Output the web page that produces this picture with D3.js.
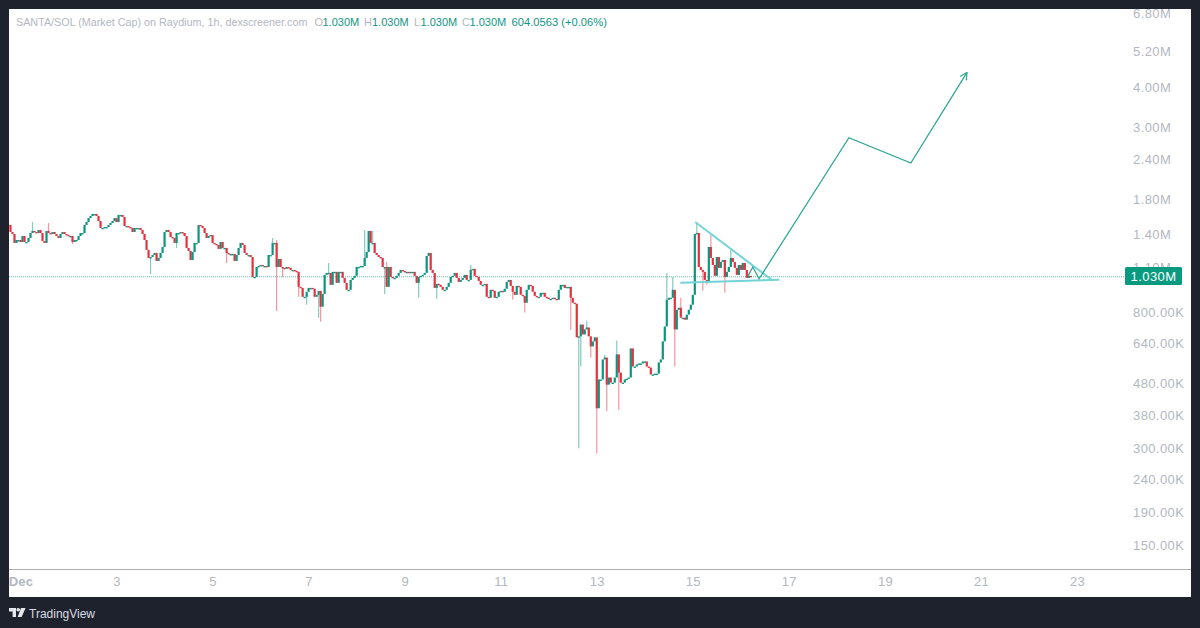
<!DOCTYPE html>
<html><head><meta charset="utf-8">
<script src="https://cdn.jsdelivr.net/npm/d3@7"></script>
<style>
html,body{margin:0;padding:0;background:#1e222d;width:1200px;height:628px;overflow:hidden}
svg{display:block}
text{font-family:"Liberation Sans",Arial,sans-serif}
</style></head><body>
<svg id="c" width="1200" height="628"></svg>
<script>
// hourly closes in thousands, first candle Nov 30 18:00
const closes = [
1494,1420,1400,1313,1341,1341,1322,1380,1322,1322,
1361,1410,1431,1420,1410,1441,1410,1332,1313,1431,
1410,1400,1420,1400,1380,1361,1400,1420,1400,1390,
1380,1380,1322,1341,1341,1380,1410,1410,1494,1526,
1570,1593,1616,1616,1593,1537,1462,1462,1472,1472,
1494,1515,1537,1570,1526,1605,1605,1582,1483,1483,
1472,1462,1420,1462,1462,1462,1441,1400,1341,1249,
1179,1187,1204,1222,1154,1179,1222,1276,1420,1441,
1420,1370,1361,1313,1410,1410,1420,1410,1380,1267,
1240,1162,1231,1313,1313,1494,1483,1462,1410,1361,
1380,1390,1313,1303,1294,1258,1322,1267,1267,1222,
1213,1213,1213,1154,1204,1267,1313,1294,1222,1204,
1204,1187,1029,1029,1105,1113,1121,1113,1113,1105,
1204,1204,1313,1313,1105,1170,1105,1098,1090,1105,
1098,1082,1082,1074,1067,958,
951,892,892,925,951,951,945,892,905,931,
831,911,1044,1059,1059,972,1067,1067,986,1067,
1067,1022,986,938,938,1007,1022,1037,1105,1105,
1113,1113,1179,1231,1431,1313,1313,1222,1204,1187,
1179,1105,1105,958,1105,1029,1022,1022,1037,1059,
1082,1074,1067,1067,1059,1067,1067,1037,986,1029,
1037,1044,1059,1196,1222,1082,1059,951,979,972,
958,938,938,958,986,1029,1037,1059,1022,993,
1007,1022,1044,1007,1007,1082,1090,1037,1029,1000,
972,972,979,892,886,938,931,886,892,925,
931,925,945,993,1007,965,925,905,965,958,
905,898,855,938,972,965,925,898,892,892,
918,918,892,886,879,879,886,879,873,938,
972,972,951,958,958,886,855,849,
667,672,731,681,706,716,672,625,648,667,
401,493,493,569,577,475,500,482,482,500,
590,518,482,482,493,496,500,616,541,541,
549,553,553,561,561,541,537,511,511,514,
514,557,569,648,721,873,886,886,938,706,
813,825,768,768,757,785,813,843,905,1400,
1410,1105,1082,1067,1007,993,1276,1179,1121,1037,
1187,1098,1146,1162,1029,1067,1105,1179,1146,1098,
1044,1121,1082,1137,1082,1022,1037,1030];
// long wicks: candle index and the price the wick reaches
const wickIndex = [12,20,32,71,84,93,109,132,134,134,137,145,149,155,156,160,178,182,188,189,205,214,231,252,258,281,285,286,289,291,294,298,299,304,305,329,332,333,336,344,347,349,351,358,361];
const wickPrice = [1526,1515,1303,1051,1267,1231,1137,1361,806,1341,1029,892,843,768,746,1137,1441,1431,911,1146,886,879,1121,873,797,704,301,541,752,577,290,589,393,652,397,1059,1029,541,886,1504,931,972,1390,918,1249];
const priceTicks = [6800,5200,4000,3000,2400,1800,1400,1100,800,640,480,380,300,240,190,150];
const dayTicks = [1,3,5,7,9,11,13,15,17,19,21,23];
const lastPrice = 1030;
// drawings: day of December, price in thousands
const arrowDay = [16.15,16.25,16.38,18.25,19.54,20.71];
const arrowPrice = [1037,1105,1015,2794,2330,4466];
const upperDay = [15.05,16.67];
const upperPrice = [1526,1001];
const lowerDay = [14.74,16.80];
const lowerPrice = [986,1009];

const UP="#0b957d", DOWN="#e2313f", AXIS="#b4b7bf";
const dec = d=>new Date(Date.UTC(2024,11,1)+(d-1)*864e5);
const x = d3.scaleUtc().domain([dec(1),dec(23)]).range([20.5,1077]);
const y = d3.scaleLog().domain([1400,800]).range([234,312]);
const svg = d3.select("#c");
svg.append("rect").attr("x",9).attr("y",9).attr("width",1182).attr("height",588).attr("fill","#fff");
const defs = svg.append("defs");
defs.append("clipPath").attr("id","plot").append("rect").attr("x",9).attr("y",9).attr("width",1115).attr("height",560);
defs.append("marker").attr("id","head").attr("viewBox","0 0 10 10").attr("refX",9).attr("refY",5)
 .attr("markerWidth",9).attr("markerHeight",9).attr("markerUnits","userSpaceOnUse").attr("orient","auto")
 .append("path").attr("d","M1,1L9,5L1,9").attr("fill","none").attr("stroke","#2aa692").attr("stroke-width",1.3);

const start = Date.UTC(2024,10,30,18);
const candles = closes.map((c,i)=>({t:new Date(start+i*36e5),o:i?closes[i-1]:c,c,i}));
const plot = svg.append("g").attr("clip-path","url(#plot)");

plot.append("line").attr("x1",9).attr("x2",1124).attr("y1",y(lastPrice)).attr("y2",y(lastPrice))
 .attr("stroke","#63bfac").attr("stroke-width",1).attr("stroke-dasharray","1 1");

plot.selectAll(".w").data(wickIndex).join("line").attr("class","w")
 .attr("x1",i=>x(candles[i].t)).attr("x2",i=>x(candles[i].t))
 .attr("y1",(i,n)=>y(wickPrice[n]))
 .attr("y2",i=>y((candles[i].o+candles[i].c)/2))
 .attr("stroke",i=>candles[i].c>=candles[i].o?UP:DOWN)
 .attr("stroke-opacity",.5).attr("stroke-width",1.2);

plot.selectAll(".b").data(candles).join("rect").attr("class","b")
 .attr("x",d=>x(d.t)-1.1).attr("width",2.2)
 .attr("y",d=>Math.min(y(d.o),y(d.c)))
 .attr("height",d=>Math.max(1.4,Math.abs(y(d.o)-y(d.c))))
 .attr("fill",d=>d.c>=d.o?UP:DOWN);

const line = d3.line().x(d=>x(dec(d[0]))).y(d=>y(d[1]));
const drawn = svg.append("g").attr("fill","none");
[[upperDay,upperPrice],[lowerDay,lowerPrice]].forEach(([a,b])=>{
 drawn.append("path").attr("d",line(a.map((d,i)=>[d,b[i]]))).attr("stroke","#74d3d6").attr("stroke-width",2);
});
drawn.append("path").attr("d",line(arrowDay.map((d,i)=>[d,arrowPrice[i]])))
 .attr("stroke","#2aa692").attr("stroke-width",1.25).attr("marker-end","url(#head)");

// axes
const fmt = v=>v>=1000?(v/1000).toFixed(2)+"M":v.toFixed(2)+"K";
const ya = svg.append("g").attr("transform","translate(1133,0)").call(d3.axisRight(y).tickValues(priceTicks).tickFormat(fmt).tickSize(0).tickPadding(0));
ya.select(".domain").remove();
ya.selectAll("text").attr("fill",AXIS).attr("font-size",13).attr("letter-spacing",.4);

const xa = svg.append("g").attr("transform","translate(0,569)").call(d3.axisBottom(x).tickValues(dayTicks.map(dec)).tickFormat(d=>d.getUTCDate()==1?"Dec":d.getUTCDate()).tickSize(0).tickPadding(8));
xa.select(".domain").remove();
xa.selectAll("text").attr("fill",AXIS).attr("font-size",13).attr("letter-spacing",.3)
 .attr("font-weight",d=>d.getUTCDate()==1?"bold":"normal");
svg.append("line").attr("x1",9).attr("x2",1191).attr("y1",569.5).attr("y2",569.5).attr("stroke","#a9acb3").attr("stroke-width",1);

// last price tag
svg.append("rect").attr("x",1125).attr("y",267).attr("width",57).attr("height",18).attr("rx",1.5).attr("fill","#0a9a80");
svg.append("text").attr("x",1153.5).attr("y",280.6).attr("text-anchor","middle").attr("fill","#fff").attr("font-size",13).attr("letter-spacing",.4).text("1.030M");

// header legend
const GREY="#b4b7bf", TEAL="#12957f";
const head=[[16,"SANTA/SOL (Market Cap) on Raydium, 1h, dexscreener.com",GREY,10.78,0],
[314.5,"O",GREY,11,0],[322.5,"1.030M",TEAL,11,0],[364,"H",GREY,11,0],[372,"1.030M",TEAL,11,0],
[414,"L",GREY,11,0],[420.5,"1.030M",TEAL,11,0],[462,"C",GREY,11,0],[469.5,"1.030M",TEAL,11,0],
[511.5,"604.0563 (+0.06%)",TEAL,11.2,0]];
svg.append("g").selectAll("text").data(head).join("text")
 .attr("x",d=>d[0]).attr("y",25.5).attr("font-size",d=>d[3]).attr("fill",d=>d[2]).text(d=>d[1]);

// footer brand
const brand = svg.append("g").attr("transform","translate(9,608)").attr("fill","#e6e8ee");
brand.append("path").attr("d","M0,0H7V9H3.6V3.4H0Z");
brand.append("circle").attr("cx",9.2).attr("cy",1.8).attr("r",1.8);
brand.append("path").attr("d","M12,0H16.6L12.6,9H8.6Z");
svg.append("text").attr("x",29).attr("y",618).attr("fill","#d9dbe2").attr("font-size",12).text("TradingView");
</script></body></html>
